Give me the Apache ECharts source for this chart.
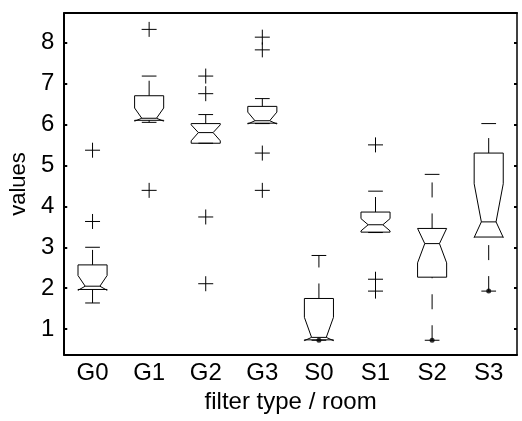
<!DOCTYPE html>
<html>
<head>
<meta charset="utf-8">
<script src="https://cdn.jsdelivr.net/npm/echarts@6/dist/echarts.min.js"></script>
<style>
  html, body { margin: 0; padding: 0; background: #fff; }
  #chart { width: 522px; height: 421px; }
</style>
</head>
<body>
<div id="chart"></div>
<script>
const categories = ["G0", "G1", "G2", "G3", "S0", "S1", "S2", "S3"];
const whiskerLo = [1.64, 6.05, 5.54, 6.02, 0.73, 3.36, 0.73, 1.93];
const quart1 = [1.97, 6.10, 5.54, 6.03, 0.74, 3.37, 2.27, 3.25];
const notchLo = [1.95, 6.08, 5.60, 6.01, 0.72, 3.40, 2.62, 3.24];
const medians = [2.05, 6.15, 5.80, 6.09, 0.80, 3.55, 3.09, 3.62];
const notchHi = [2.31, 6.40, 5.99, 6.30, 1.29, 3.70, 3.46, 4.55];
const quart3 = [2.57, 6.70, 6.02, 6.44, 1.75, 3.86, 3.46, 5.30];
const whiskerHi = [3.00, 7.18, 6.24, 6.63, 2.80, 4.37, 4.78, 6.02];
// [group index, value]
const outliers = [
  [0, 5.37], [0, 3.63],
  [1, 8.32], [1, 4.39],
  [2, 7.18], [2, 6.75], [2, 3.74], [2, 2.11],
  [3, 8.13], [3, 7.82], [3, 5.30], [3, 4.39],
  [5, 5.50], [5, 2.22], [5, 1.93]
];
const lowDots = [[4, 0.73], [6, 0.73], [7, 1.93]];
const yTicks = [1, 2, 3, 4, 5, 6, 7, 8];

const font = "'Liberation Sans', Arial, sans-serif";
const boxData = categories.map((c, i) => [
  i, whiskerLo[i], quart1[i], notchLo[i], medians[i], notchHi[i], quart3[i], whiskerHi[i]
]);

const chart = echarts.init(document.getElementById("chart"));

const line = (x1, y1, x2, y2, dash) => ({
  type: "line",
  shape: { x1, y1, x2, y2 },
  style: { stroke: "#000", lineWidth: 1, lineDash: dash || null, fill: null }
});

chart.setOption({
  animation: false,
  grid: { left: 62, right: 5, top: 13, bottom: 66 },
  xAxis: [
    {
      type: "category",
      data: categories,
      position: "bottom",
      axisLine: { lineStyle: { color: "#000", width: 2 } },
      axisTick: { inside: true, length: 3, alignWithLabel: true, lineStyle: { color: "#000", width: 2 } },
      axisLabel: { color: "#000", fontSize: 24, fontFamily: font, margin: 6 },
      name: "filter type / room",
      nameLocation: "middle",
      nameGap: 32,
      nameTextStyle: { color: "#000", fontSize: 24, fontFamily: font },
      splitLine: { show: false }
    },
    {
      type: "category",
      data: categories,
      position: "top",
      axisLine: { lineStyle: { color: "#000", width: 2 } },
      axisTick: { inside: true, length: 3, alignWithLabel: true, lineStyle: { color: "#000", width: 2 } },
      axisLabel: { show: false },
      splitLine: { show: false }
    }
  ],
  yAxis: [
    {
      type: "value",
      position: "left",
      min: 0.37,
      max: 8.72,
      axisLine: { show: true, lineStyle: { color: "#000", width: 2 } },
      axisTick: { show: true, inside: true, length: 3, customValues: yTicks, lineStyle: { color: "#000", width: 2 } },
      axisLabel: { color: "#000", fontSize: 24, fontFamily: font, margin: 10, customValues: yTicks },
      splitLine: { show: false },
      name: "values",
      nameLocation: "middle",
      nameGap: 30,
      nameTextStyle: { color: "#000", fontSize: 22, fontFamily: font }
    },
    {
      type: "value",
      position: "right",
      min: 0.37,
      max: 8.72,
      axisLine: { show: true, lineStyle: { color: "#000", width: 1.5 } },
      axisTick: { show: true, inside: true, length: 3, customValues: yTicks, lineStyle: { color: "#000", width: 2 } },
      axisLabel: { show: false },
      splitLine: { show: false }
    }
  ],
  series: [
    {
      type: "custom",
      data: boxData,
      encode: { x: 0, y: [1, 2, 3, 4, 5, 6, 7] },
      renderItem: (params, api) => {
        const i = api.value(0);
        const x = api.coord([i, 0])[0];
        const y = (k) => api.coord([i, api.value(k)])[1];
        const band = api.size([1, 0])[0];
        const w = band * 0.257;
        const wi = band * 0.13;
        const wc = band * 0.13;
        const [lo, q1, n1, md, n2, q3, hi] = [y(1), y(2), y(3), y(4), y(5), y(6), y(7)];
        const dash = [15, 16];
        return {
          type: "group",
          children: [
            {
              type: "polygon",
              shape: {
                points: [
                  [x - w, q1], [x + w, q1], [x + w, n1], [x + wi, md], [x + w, n2], [x + w, q3],
                  [x - w, q3], [x - w, n2], [x - wi, md], [x - w, n1]
                ]
              },
              style: { fill: null, stroke: "#000", lineWidth: 1 }
            },
            line(x - wi, md, x + wi, md),
            line(x, lo, x, q1, dash),
            line(x, q3, x, hi, dash),
            line(x - wc, lo, x + wc, lo),
            line(x - wc, hi, x + wc, hi)
          ]
        };
      }
    },
    {
      type: "custom",
      data: outliers,
      encode: { x: 0, y: 1 },
      renderItem: (params, api) => {
        const p = api.coord([api.value(0), api.value(1)]);
        const s = 7.5;
        return {
          type: "group",
          children: [
            line(p[0] - s, p[1], p[0] + s, p[1]),
            line(p[0], p[1] - s, p[0], p[1] + s)
          ]
        };
      }
    },
    {
      type: "scatter",
      data: lowDots,
      symbol: "circle",
      symbolSize: 5,
      itemStyle: { color: "#000" }
    }
  ]
});
</script>
</body>
</html>
